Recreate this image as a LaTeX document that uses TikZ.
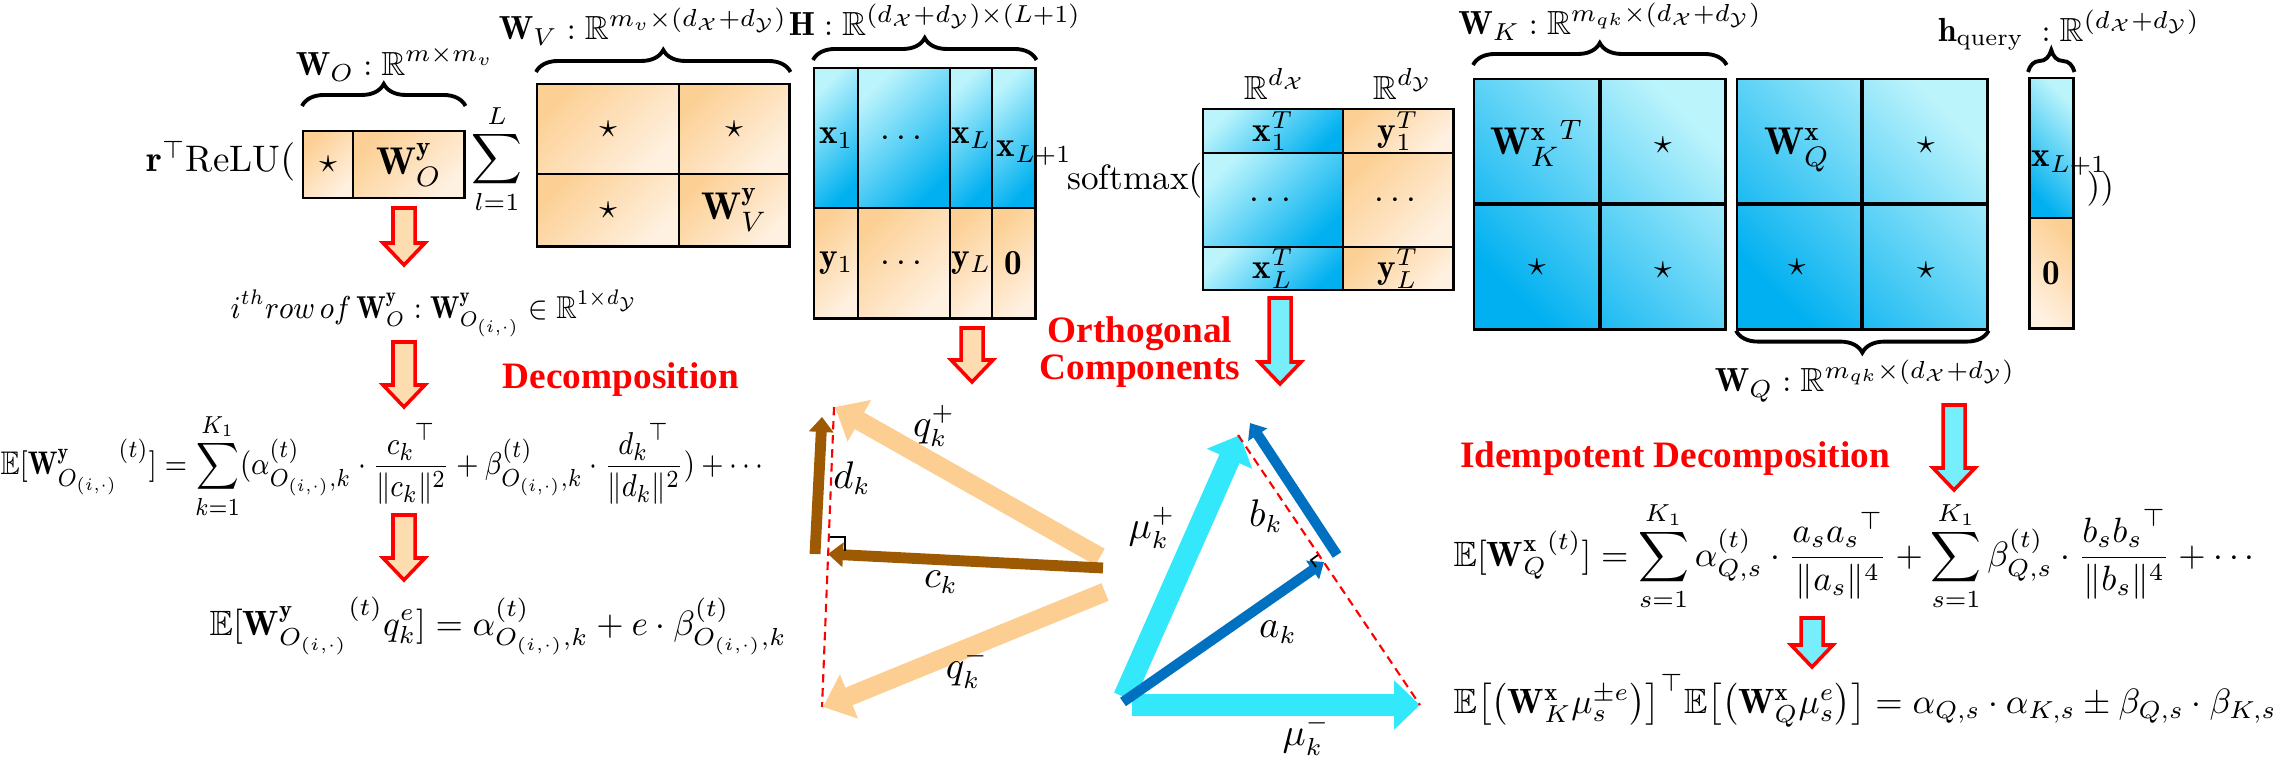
\documentclass[tikz,border=0pt]{standalone}
\usepackage{amsmath,amssymb,graphicx}
\usepackage{fontspec}
\newfontfamily\labelfont{Liberation Serif}
\usetikzlibrary{arrows.meta, decorations.pathreplacing, calc}

\definecolor{cyanlt}{RGB}{188,244,252}
\definecolor{cyandk}{RGB}{0,176,240}
\definecolor{orgdk}{RGB}{252,208,148}
\definecolor{orglt}{RGB}{255,241,226}
\definecolor{orgfill}{RGB}{253,221,176}
\definecolor{cyfill}{RGB}{118,238,252}
\definecolor{qorg}{RGB}{253,206,145}
\definecolor{brownv}{RGB}{158,90,2}
\definecolor{cyanv}{RGB}{52,232,252}
\definecolor{bluev}{RGB}{0,112,192}

\newcommand{\eqsize}{\fontsize{10}{12}\selectfont}
\newcommand{\wsize}{\fontsize{11}{13}\selectfont}
\newcommand{\lblsize}{\fontsize{9.5}{11}\selectfont}
\newcommand{\vecsize}{\fontsize{10.5}{12}\selectfont}

% block arrow: x, top y, tip y, fill
\newcommand{\blkarrow}[4]{%
  \draw[blk, fill=#4] (#1-11,#2) -- (#1+11,#2) -- (#1+11,#3-22) -- (#1+21,#3-22)
    -- (#1,#3) -- (#1-21,#3-22) -- (#1-11,#3-22) -- cycle;}

\tikzset{
  cell/.style={draw, line width=0.7pt, inner sep=0pt, anchor=north west},
  bcell/.style={cell, top color=cyanlt, bottom color=cyandk, shading angle=45},
  ocell/.style={cell, top color=orgdk, bottom color=orglt, shading angle=45},
  bmat/.style={cell, top color=cyanlt, bottom color=cyandk, shading angle=-45},
  midline/.style={line width=1.2pt},
  brc/.style={decorate, decoration={brace, amplitude=0.22cm}, line width=1.1pt},
  txt/.style={inner sep=0pt},
  redlbl/.style={text=red, align=center, font=\labelfont\bfseries\fontsize{10.6}{10.6}\selectfont},
  blk/.style={draw=red, line width=1pt, line join=miter},
  qvec/.style={qorg, line width=5.4pt, -{Triangle[width=0.46cm, length=0.28cm]}},
  bnvec/.style={brownv, line width=3.1pt, -{Triangle[width=0.24cm, length=0.15cm]}},
  cyvec/.style={cyanv, line width=6.2pt, -{Triangle[width=0.48cm, length=0.26cm]}},
  blvec/.style={bluev, line width=2.9pt, -{Triangle[width=0.22cm, length=0.14cm]}},
  perp/.style={red, line width=0.6pt, dash pattern=on 2.4pt off 1.6pt},
  rmark/.style={black, line width=0.5pt},
}

\begin{document}
\begin{tikzpicture}[x=0.01cm, y=-0.01cm, font=\eqsize]
\useasboundingbox (0,0) rectangle (2280,758);

% ---- W_O ----
\node[txt, anchor=base east, font=\fontsize{10.5}{12}\selectfont] (relu) at (296,172) {$\mathbf{r}^{\top}\mathrm{ReLU}($};
\node[ocell, minimum width=0.50cm, minimum height=0.67cm] (WOa) at (302,130) {$\star$};
\node[ocell, minimum width=1.11cm, minimum height=0.67cm, font=\wsize] (WOb) at (352,130) {$\mathbf{W}^{\mathbf{y}}_O$};
\node[txt, font=\lblsize] (WOl) at (395,64) {$\mathbf{W}_O:\mathbb{R}^{m\times m_v}$};
\draw[brc] ([yshift=0.24cm]WOa.north west) -- ([yshift=0.24cm]WOb.north east);
\node[txt] (sumL) at (497,159) {$\displaystyle\sum_{l=1}^{L}$};

% ---- W_V ----
\node[ocell, minimum width=1.42cm, minimum height=0.90cm] (WVa) at (536,83) {$\star$};
\node[ocell, minimum width=1.10cm, minimum height=0.90cm] (WVb) at (678,83) {$\star$};
\node[ocell, minimum width=1.42cm, minimum height=0.72cm] (WVc) at (536,173) {$\star$};
\node[ocell, minimum width=1.10cm, minimum height=0.72cm, font=\wsize] (WVd) at (678,173) {$\mathbf{W}^{\mathbf{y}}_V$};
\node[txt, font=\lblsize] (WVl) at (643,27) {$\mathbf{W}_V:\mathbb{R}^{m_v\times(d_{\mathcal{X}}+d_{\mathcal{Y}})}$};
\draw[brc] ([yshift=0.11cm]WVa.north west) -- ([yshift=0.11cm]WVb.north east);

% ---- H ----
\node[bcell, minimum width=0.44cm, minimum height=1.40cm] (Ha) at (813,67) {$\mathbf{x}_1$};
\node[bcell, minimum width=0.92cm, minimum height=1.40cm] (Hb) at (857,67) {$\cdots$};
\node[bcell, minimum width=0.42cm, minimum height=1.40cm] (Hc) at (949,67) {$\mathbf{x}_L$};
\node[bcell, minimum width=0.43cm, minimum height=1.40cm] (Hd) at (991,67) {};
\node[txt, anchor=base west] (HdT) at (996,157) {$\mathbf{x}_{L+1}$};
\node[ocell, minimum width=0.44cm, minimum height=1.10cm] (He) at (813,207) {$\mathbf{y}_1$};
\node[ocell, minimum width=0.92cm, minimum height=1.10cm] (Hf) at (857,207) {$\cdots$};
\node[ocell, minimum width=0.42cm, minimum height=1.10cm] (Hg) at (949,207) {$\mathbf{y}_L$};
\node[ocell, minimum width=0.43cm, minimum height=1.10cm] (Hh) at (991,207) {$\mathbf{0}$};
\node[txt, font=\lblsize] (Hl) at (935,20) {$\mathbf{H}:\mathbb{R}^{(d_{\mathcal{X}}+d_{\mathcal{Y}})\times(L+1)}$};
\draw[brc] ([yshift=0.07cm]Ha.north west) -- ([yshift=0.07cm]Hd.north east);

% ---- softmax ----
\node[txt, anchor=base east] (smax) at (1203,190) {$\mathrm{softmax}($};
\node[bcell, minimum width=1.40cm, minimum height=0.44cm] (Ma) at (1202,108) {};
\node[ocell, minimum width=1.10cm, minimum height=0.44cm] (Mb) at (1342,108) {};
\node[bcell, minimum width=1.40cm, minimum height=0.94cm] (Mc) at (1202,152) {$\cdots$};
\node[ocell, minimum width=1.10cm, minimum height=0.94cm] (Md) at (1342,152) {$\cdots$};
\node[bcell, minimum width=1.40cm, minimum height=0.43cm] (Me) at (1202,246) {};
\node[ocell, minimum width=1.10cm, minimum height=0.43cm] (Mf) at (1342,246) {};
\node[txt] (tMa) at (Ma) {$\mathbf{x}_1^T$};
\node[txt] (tMb) at (Mb) {$\mathbf{y}_1^T$};
\node[txt] (tMe) at (Me) {$\mathbf{x}_L^T$};
\node[txt] (tMf) at (Mf) {$\mathbf{y}_L^T$};
\node[txt, font=\lblsize] (RX) at (1275,84) {$\mathbb{R}^{d_{\mathcal{X}}}$};
\node[txt, font=\lblsize] (RY) at (1403,84) {$\mathbb{R}^{d_{\mathcal{Y}}}$};

% ---- W_K ----
\node[bmat, minimum width=2.51cm, minimum height=2.50cm] (WK) at (1473,78) {};
\draw[midline] (WK.north) -- (WK.south);
\draw[midline] (WK.west) -- (WK.east);
\node[txt, font=\wsize] (Kt1) at (1537,143) {${\mathbf{W}^{\mathbf{x}}_K}^{T}$};
\node[txt] (Kt2) at (1663,145) {$\star$};
\node[txt] (Kt3) at (1537,267) {$\star$};
\node[txt] (Kt4) at (1663,270) {$\star$};
\node[txt, font=\lblsize] (WKl) at (1610,22) {$\mathbf{W}_K:\mathbb{R}^{m_{qk}\times(d_{\mathcal{X}}+d_{\mathcal{Y}})}$};
\draw[brc] ([yshift=0.13cm]WK.north west) -- ([yshift=0.13cm]WK.north east);

% ---- W_Q ----
\node[bmat, minimum width=2.50cm, minimum height=2.50cm] (WQ) at (1736,78) {};
\draw[midline] (WQ.north) -- (WQ.south);
\draw[midline] (WQ.west) -- (WQ.east);
\node[txt, font=\wsize] (Qt1) at (1797,150) {$\mathbf{W}^{\mathbf{x}}_Q$};
\node[txt] (Qt2) at (1926,145) {$\star$};
\node[txt] (Qt3) at (1797,267) {$\star$};
\node[txt] (Qt4) at (1926,270) {$\star$};
\node[txt, font=\lblsize] (WQl) at (1865,381) {$\mathbf{W}_Q:\mathbb{R}^{m_{qk}\times(d_{\mathcal{X}}+d_{\mathcal{Y}})}$};
\draw[brc] (WQ.south east) -- (WQ.south west);

% ---- h_query ----
\node[bcell, shading angle=-45, minimum width=0.44cm, minimum height=1.40cm] (hqa) at (2028,77) {};
\node[ocell, shading angle=-45, minimum width=0.44cm, minimum height=1.10cm] (hqb) at (2028,217) {$\mathbf{0}$};
\node[txt, anchor=base west] (hqx) at (2031,167) {$\mathbf{x}_{L+1}$};
\node[txt, anchor=base west] (hqcl) at (2086,198) {$))$};
\node[txt, font=\lblsize] (hql) at (2069,30) {$\mathbf{h}_{\text{query}}\;:\mathbb{R}^{(d_{\mathcal{X}}+d_{\mathcal{Y}})}$};
\draw[brc] ([yshift=0.05cm]hqa.north west) -- ([yshift=0.05cm]hqa.north east);

% ---- block arrows ----
\blkarrow{404}{208}{265}{orgfill}
\blkarrow{404}{342}{407}{orgfill}
\blkarrow{404}{515}{580}{orgfill}
\blkarrow{972}{328}{382}{orgfill}
\blkarrow{1280}{298}{384}{cyfill}
\blkarrow{1954}{405}{490}{cyfill}
\blkarrow{1812}{618}{667}{cyfill}

% ---- left equations ----
\node[txt, anchor=base west, font=\fontsize{9}{11}\selectfont] (rowtxt) at (230,318) {\scalebox{0.9}[1]{$i^{th}row\,of\,\mathbf{W}^{\mathbf{y}}_O:\mathbf{W}^{\mathbf{y}}_{O_{(i,\cdot)}}\in\mathbb{R}^{1\times d_{\mathcal{Y}}}$}};
\node[redlbl] (decomp) at (621,380) {Decomposition};
\node[txt, anchor=west, font=\fontsize{9.3}{11}\selectfont] (eqO1) at (0,466) {\scalebox{0.88}[1]{$\displaystyle\mathbb{E}[{\mathbf{W}^{\mathbf{y}}_{O_{(i,\cdot)}}}^{(t)}]=\sum_{k=1}^{K_1}(\alpha^{(t)}_{O_{(i,\cdot)},k}\cdot\frac{{c_k}^{\top}}{\|c_k\|^2}+\beta^{(t)}_{O_{(i,\cdot)},k}\cdot\frac{{d_k}^{\top}}{\|d_k\|^2})+\cdots$}};
\node[txt, anchor=base west] (eqO2) at (209,635) {$\displaystyle\mathbb{E}[{\mathbf{W}^{\mathbf{y}}_{O_{(i,\cdot)}}}^{(t)}q_k^e]=\alpha^{(t)}_{O_{(i,\cdot)},k}+e\cdot\beta^{(t)}_{O_{(i,\cdot)},k}$};

% ---- orthogonal components ----
\node[redlbl] (ortho) at (1140,352) {Orthogonal\\Components};
\coordinate (qpT) at (1100,557); \coordinate (qpH) at (835,407);
\coordinate (qmT) at (1105,592); \coordinate (qmH) at (823,707);
\coordinate (ckT) at (1103,568); \coordinate (ckH) at (828,554);
\coordinate (dkT) at (815,554);  \coordinate (dkH) at (822,417);
\coordinate (dlA) at (834,407);  \coordinate (dlB) at (822,707);
\draw[qvec] (qpT) -- (qpH);
\draw[qvec] (qmT) -- (qmH);
\draw[bnvec] (ckT) -- (ckH);
\draw[bnvec] (dkT) -- (dkH);
\draw[perp] (dlA) -- (dlB);
\draw[rmark] (830,537) -- (845,537) -- (845,551);
\node[txt, font=\vecsize] (lqp) at (934,426) {$q_k^+$};
\node[txt, font=\vecsize] (ldk) at (852,478) {$d_k$};
\node[txt, font=\vecsize] (lck) at (941,582) {$c_k$};
\node[txt, font=\vecsize] (lqm) at (967,668) {$q_k^-$};

\coordinate (mpT) at (1124,697); \coordinate (mpH) at (1240,435);
\coordinate (mmT) at (1132,705); \coordinate (mmH) at (1420,705);
\coordinate (akT) at (1123,702); \coordinate (akH) at (1324,562);
\coordinate (bkT) at (1337,555); \coordinate (bkH) at (1250,423);
\coordinate (drA) at (1238,435); \coordinate (drB) at (1420,705);
\draw[cyvec] (mpT) -- (mpH);
\draw[cyvec] (mmT) -- (mmH);
\draw[blvec] (akT) -- (akH);
\draw[blvec] (bkT) -- (bkH);
\draw[perp] (drA) -- (drB);
\draw[rmark] (1316,567) -- (1311,560) -- (1318,555);
\node[txt, font=\vecsize] (lmp) at (1152,528) {$\mu_k^+$};
\node[txt, font=\vecsize] (lbk) at (1266,516) {$b_k$};
\node[txt, font=\vecsize] (lak) at (1278,632) {$a_k$};
\node[txt, font=\vecsize] (lmm) at (1306,735) {$\mu_k^-$};

% ---- right equations ----
\node[redlbl] (idem) at (1675,459) {Idempotent Decomposition};
\node[txt, anchor=west] (eqQ1) at (1453,556) {$\displaystyle\mathbb{E}[{\mathbf{W}^{\mathbf{x}}_Q}^{(t)}]=\sum_{s=1}^{K_1}\alpha^{(t)}_{Q,s}\cdot\frac{a_s{a_s}^{\top}}{\|a_s\|^4}+\sum_{s=1}^{K_1}\beta^{(t)}_{Q,s}\cdot\frac{b_s{b_s}^{\top}}{\|b_s\|^4}+\cdots$};
\node[txt, anchor=base west] (eqQ2) at (1453,713) {$\mathbb{E}\bigl[\bigl(\mathbf{W}^{\mathbf{x}}_K\mu_s^{\pm e}\bigr)\bigr]^{\top}\mathbb{E}\bigl[\bigl(\mathbf{W}^{\mathbf{x}}_Q\mu_s^{e}\bigr)\bigr]=\alpha_{Q,s}\cdot\alpha_{K,s}\pm\beta_{Q,s}\cdot\beta_{K,s}$};
\end{tikzpicture}
\end{document}
